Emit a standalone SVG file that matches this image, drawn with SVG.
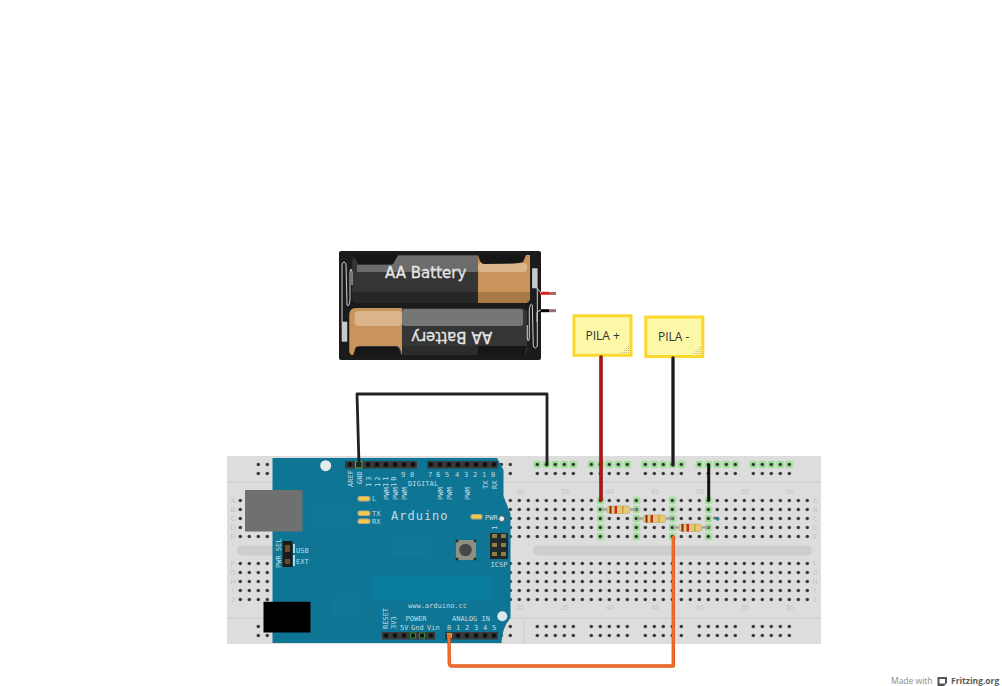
<svg xmlns="http://www.w3.org/2000/svg" width="1002" height="686" viewBox="0 0 1002 686">
<style>
.silk{font-family:"DejaVu Sans Mono","Liberation Mono",monospace;font-size:7px;fill:#c3dbe4}
.bbl{font-family:"Liberation Sans",Arial,sans-serif;font-size:7px;fill:#c4c4c4;text-anchor:middle}
.batt{font-family:"DejaVu Sans",sans-serif;font-size:15px;fill:#e6e6e6;stroke:#e6e6e6;stroke-width:.3;text-anchor:middle}
.note{fill:#fdf8a8;stroke:#fcd72e;stroke-width:3}
.notet{font-family:"Open Sans","Noto Sans",sans-serif;font-size:12px;fill:#333}
.grip{fill:#b9b37a}
.led{fill:#f2c84b;stroke:#b9a980;stroke-width:1.2}
.lead{stroke:#9a9a9a;stroke-width:2;fill:none}
.rbody{fill:#e3c978;stroke:#bda663;stroke-width:.6}
.b1{fill:#7c2a1a}.b2{fill:#c9291c}.b3{fill:#c7a13a}
.w{fill:none;stroke-linecap:round;stroke-linejoin:round}
.spring{fill:none;stroke:#cfcfcf;stroke-width:1}
.term{fill:#c9c9c9}
</style>
<defs>
<pattern id="holes" patternUnits="userSpaceOnUse" x="1.8" y="1" width="9" height="9"><circle cx="4.5" cy="4.5" r="1.7" fill="#333"/></pattern>
<pattern id="pins" patternUnits="userSpaceOnUse" x="3.5" y="1" width="9" height="9"><rect x="2.5" y="2.5" width="4" height="4" fill="#0c0c0c"/></pattern>
<pattern id="gr" patternUnits="userSpaceOnUse" x="1.8" y="1" width="9" height="9"><rect x=".7" y=".7" width="7.6" height="7.6" rx="2" fill="#a0e09a"/></pattern>
</defs>

<g id="breadboard">
<rect x="227" y="456" width="594" height="188" fill="#dddddd"/>
<path d="M227 482H821M227 618H821M524 618V644" stroke="#cbcbcb" fill="none"/>
<rect x="237" y="545.500" width="60" height="10" rx="5" fill="#cdcdcd"/>
<rect x="533" y="545.500" width="279" height="10" rx="5" fill="#cdcdcd"/>
<rect x="532.800" y="460" width="45" height="9" fill="url(#gr)"/>
<rect x="586.800" y="460" width="45" height="9" fill="url(#gr)"/>
<rect x="640.800" y="460" width="45" height="9" fill="url(#gr)"/>
<rect x="694.800" y="460" width="45" height="9" fill="url(#gr)"/>
<rect x="748.800" y="460" width="45" height="9" fill="url(#gr)"/>
<rect x="596.800" y="496" width="9" height="45" fill="url(#gr)"/>
<rect x="632.800" y="496" width="9" height="45" fill="url(#gr)"/>
<rect x="668.800" y="496" width="9" height="45" fill="url(#gr)"/>
<rect x="704.800" y="496" width="9" height="45" fill="url(#gr)"/>
<rect x="235.800" y="496" width="576" height="45" fill="url(#holes)"/>
<rect x="235.800" y="559" width="576" height="45" fill="url(#holes)"/>
<path d="M253.800 460h45v18h-45zM307.800 460h45v18h-45zM361.800 460h45v18h-45zM415.800 460h45v18h-45zM469.800 460h45v18h-45zM532.800 460h45v18h-45zM586.800 460h45v18h-45zM640.800 460h45v18h-45zM694.800 460h45v18h-45zM748.800 460h45v18h-45zM253.800 622h45v18h-45zM307.800 622h45v18h-45zM361.800 622h45v18h-45zM415.800 622h45v18h-45zM469.800 622h45v18h-45zM532.800 622h45v18h-45zM586.800 622h45v18h-45zM640.800 622h45v18h-45zM694.800 622h45v18h-45zM748.800 622h45v18h-45z" fill="url(#holes)"/>
<g class="bbl">
<text x="520" y="494">30</text><text x="565" y="494">35</text><text x="610" y="494">40</text><text x="655" y="494">45</text><text x="700" y="494">50</text><text x="745" y="494">55</text><text x="790" y="494">60</text>
<text x="520" y="610">30</text><text x="565" y="610">35</text><text x="610" y="610">40</text><text x="655" y="610">45</text><text x="700" y="610">50</text><text x="745" y="610">55</text><text x="790" y="610">60</text>
<text x="233" y="503">A</text><text x="233" y="512">B</text><text x="233" y="521">C</text><text x="233" y="530">D</text><text x="233" y="539">E</text>
<text x="233" y="566">F</text><text x="233" y="575">G</text><text x="233" y="584">H</text><text x="233" y="593">I</text><text x="233" y="602">J</text>
<text x="815" y="503">A</text><text x="815" y="512">B</text><text x="815" y="521">C</text><text x="815" y="530">D</text><text x="815" y="539">E</text>
<text x="815" y="566">F</text><text x="815" y="575">G</text><text x="815" y="584">H</text><text x="815" y="593">I</text><text x="815" y="602">J</text>
</g>
</g>

<g id="arduino">
<path d="M272.500 458H497L503.500 470V496L510.500 514V618Q502 628 501.500 643H272.500Z" fill="#0e7594"/>
<rect x="372" y="575" width="120" height="26" fill="#0a7d9e"/>
<rect x="312" y="503" width="40" height="26" fill="#0f7896"/>
<circle cx="345" cy="605" r="15" fill="#0f7896"/>
<rect x="390" y="535" width="40" height="22" fill="#0f7896"/>
<rect x="245" y="490" width="57.500" height="41.500" fill="#707070"/>
<path d="M263.500 601.700H310.500V632.500H263.500Z" fill="#000"/>
<circle cx="325.700" cy="465.700" r="5.500" fill="#e4ebe6"/>
<circle cx="501.700" cy="518.700" r="3" fill="#e6eef0" stroke="#555"/>
<circle cx="502.300" cy="616.300" r="5" fill="#dbe8ec"/>
<rect x="345" y="461" width="72" height="7.500" fill="#3a3a3a"/><rect x="345" y="461" width="72" height="7.500" fill="url(#pins)"/>
<rect x="427" y="461" width="71" height="7.500" fill="#3a3a3a"/><rect x="427" y="461" width="71" height="7.500" fill="url(#pins)"/>
<rect x="382" y="632" width="53" height="7.500" fill="#3a3a3a"/><rect x="382" y="632" width="53" height="7.500" fill="url(#pins)"/>
<rect x="445" y="632" width="53" height="7.500" fill="#3a3a3a"/><rect x="445" y="632" width="53" height="7.500" fill="url(#pins)"/>
<rect x="355.500" y="461.500" width="6.500" height="6.500" fill="none" stroke="#3fa83f"/>
<rect x="410.500" y="633" width="5" height="5" fill="none" stroke="#2e8b37"/><rect x="419.500" y="633" width="5" height="5" fill="none" stroke="#2e8b37"/>
<rect x="447" y="633" width="5" height="5" fill="#c9a23a"/>
<rect x="358" y="496.500" width="12" height="4.500" rx="2.200" class="led"/>
<rect x="358" y="511" width="12" height="4.500" rx="2.200" class="led"/>
<rect x="358" y="519" width="12" height="4.500" rx="2.200" class="led"/>
<rect x="471" y="514.500" width="11" height="4.500" rx="2.200" class="led"/>
<rect x="456" y="540" width="20" height="20" fill="#8f8f84"/>
<g fill="#2a2a2a"><circle cx="457" cy="541" r="1.500"/><circle cx="475" cy="541" r="1.500"/><circle cx="457" cy="559" r="1.500"/><circle cx="475" cy="559" r="1.500"/></g>
<circle cx="465.500" cy="550" r="6.200" fill="#45474a"/>
<rect x="490" y="533" width="18" height="26" fill="#1e2a2e"/>
<g fill="#8f7d45"><rect x="492" y="534" width="5" height="4"/><rect x="501" y="534" width="5" height="4"/><rect x="492" y="543" width="5" height="4"/><rect x="501" y="543" width="5" height="4"/><rect x="492" y="552" width="5" height="4"/><rect x="501" y="552" width="5" height="4"/></g>
<rect x="282.500" y="541" width="10" height="26" fill="#1b1b1b"/>
<rect x="285" y="545" width="5" height="7" fill="#6b4b2a"/><rect x="285" y="559" width="5" height="5" fill="#6b4b2a"/>
<path d="M294 544v9M294 555v11" stroke="#e8f2f5" stroke-width="1.500"/>
<g class="silk">
<text transform="rotate(-90 353 487)" x="353" y="487">AREF</text>
<text transform="rotate(-90 361.500 484)" x="361.500" y="484">GND</text>
<text transform="rotate(-90 370.500 487)" x="370.500" y="487" letter-spacing="2">13</text>
<text transform="rotate(-90 379.500 487)" x="379.500" y="487" letter-spacing="2">12</text>
<text transform="rotate(-90 387.500 487)" x="387.500" y="487" letter-spacing="2">11</text>
<text transform="rotate(-90 395.500 487)" x="395.500" y="487" letter-spacing="2">10</text>
<text x="401" y="477">9</text><text x="410" y="477">8</text>
<text x="428" y="477">7</text><text x="436" y="477">6</text><text x="445" y="477">5</text><text x="455" y="477">4</text><text x="464" y="477">3</text><text x="473" y="477">2</text><text x="482" y="477">1</text><text x="491" y="477">0</text>
<text x="408" y="485.500" letter-spacing=".1">DIGITAL</text>
<text transform="rotate(-90 487.500 489)" x="487.500" y="489">TX</text>
<text transform="rotate(-90 496.500 489)" x="496.500" y="489">RX</text>
<text transform="rotate(-90 388.500 500)" x="388.500" y="500">PWM</text>
<text transform="rotate(-90 397.500 500)" x="397.500" y="500">PWM</text>
<text transform="rotate(-90 406.500 500)" x="406.500" y="500">PWM</text>
<text transform="rotate(-90 442.500 500)" x="442.500" y="500">PWM</text>
<text transform="rotate(-90 451.500 500)" x="451.500" y="500">PWM</text>
<text transform="rotate(-90 469.500 500)" x="469.500" y="500">PWM</text>
<text x="372" y="501">L</text><text x="372" y="516">TX</text><text x="372" y="524">RX</text>
<text x="485" y="519.500">PWR</text>
<text x="391" y="519.500" style="font-size:12px" letter-spacing="1">Arduino</text>
<text transform="rotate(-90 496.500 530)" x="496.500" y="530">1</text>
<text x="490.500" y="567">ICSP</text>
<text x="296" y="552.500">USB</text><text x="296" y="563.500">EXT</text>
<text transform="rotate(-90 281 568)" x="281" y="568">PWR SEL</text>
<text x="408" y="608">www.arduino.cc</text>
<text transform="rotate(-90 387.500 629)" x="387.500" y="629">RESET</text>
<text transform="rotate(-90 396 629)" x="396" y="629">3V3</text>
<text x="400" y="629.500">5V</text><text x="411" y="629.500">Gnd</text><text x="427" y="629.500">Vin</text>
<text x="405.500" y="620.500">POWER</text><text x="452" y="620.500">ANALOG IN</text>
<text x="447" y="629.500">0</text><text x="456" y="629.500">1</text><text x="465" y="629.500">2</text><text x="474" y="629.500">3</text><text x="483" y="629.500">4</text><text x="492" y="629.500">5</text>
</g>
</g>

<g id="battery">
<rect x="339" y="251" width="202" height="109" rx="2" fill="#1b1b1b"/>
<path d="M540 293.300H549" stroke="#e21c1c" stroke-width="3"/><path d="M549 293.500H556" stroke="#a96a6a" stroke-width="3"/>
<path d="M540 310.700H549" stroke="#000" stroke-width="3"/><path d="M549 310.700H556" stroke="#9c6a78" stroke-width="3"/>
<path d="M537 288L541 293M537 322V312L541 310" stroke="#cfcfcf" fill="none"/>
<g id="cell-top">
<rect x="352.300" y="255" width="178" height="48" rx="6" fill="#353535"/>
<path d="M352.300 292H530.300V297Q530.300 303 524 303H358Q352.300 303 352.300 297Z" fill="#272727"/>
<path d="M478 255H530V297Q530 303 524 303H478Z" fill="#c9945c"/>
<path d="M478 292H530V297Q530 303 524 303H478Z" fill="#a97a45"/>
<path d="M398 255.500H478V272H357V265H392Z" fill="#6c6c6c"/>
<rect x="478" y="263" width="49" height="9" rx="3" fill="#dcb48a"/>
<path d="M353 255H398L393 264H358Z" fill="#161616"/>
<path d="M478 255H526L523 262Q521 264 484 264Q480 264 478 255Z" fill="#161616"/>
<text class="batt" x="425.700" y="277.500">AA Battery</text>
</g>
<g id="cell-bottom">
<rect x="349.300" y="308" width="178" height="47" rx="6" fill="#353535"/>
<rect x="402" y="346" width="76" height="9" fill="#2c2c2c"/>
<path d="M402 308H356Q349.300 308 349.300 315V351Q349.300 355 353 355L355 349Q356 346 360 346H396Q400 346 402 355Z" fill="#c9945c"/>
<rect x="354.500" y="311" width="47.500" height="15" rx="4" fill="#dcb48a"/>
<rect x="402" y="309" width="121" height="17" rx="3" fill="#767676"/>
<path d="M478 346H527L524 355H478Z" fill="#161616"/>
<path d="M354 355L356 347H398L401 355Z" fill="#161616"/>
<text class="batt" transform="rotate(180 451.700 337)" x="451.700" y="342">AA Battery</text>
</g>
<g id="springs">
<path class="spring" d="M342 322V264Q344 260 346 264L347 305Q349 308 350 300V272Q351 266 352 272V285"/>
<rect class="term" x="341.700" y="321.700" width="5.500" height="20"/>
<g transform="rotate(180 439.650 305)">
<path class="spring" d="M342 322V264Q344 260 346 264L347 305Q349 308 350 300V272Q351 266 352 272V285"/>
<rect class="term" x="341.700" y="321.700" width="5.500" height="20"/>
</g>
</g>
</g>

<g id="note-plus">
<rect class="note" x="574" y="315.800" width="57" height="39.500"/>
<text class="notet" x="602.700" y="340" text-anchor="middle">PILA +</text>
<path class="grip" d="M628 346h1v1h-1zM626 348h1v1h-1zM628 348h1v1h-1zM624 350h1v1h-1zM626 350h1v1h-1zM628 350h1v1h-1zM622 352h1v1h-1zM624 352h1v1h-1zM626 352h1v1h-1zM628 352h1v1h-1z"/>
</g>
<g id="note-minus">
<rect class="note" x="645.800" y="317" width="57" height="39.500"/>
<text class="notet" x="658" y="341">PILA -</text>
<path class="grip" d="M699.500 347h1v1h-1zM697.500 349h1v1h-1zM699.500 349h1v1h-1zM695.500 351h1v1h-1zM697.500 351h1v1h-1zM699.500 351h1v1h-1zM693.500 353h1v1h-1zM695.500 353h1v1h-1zM697.500 353h1v1h-1zM699.500 353h1v1h-1z"/>
</g>

<g id="resistor-1">
<path class="lead" d="M601 509.500H637"/>
<rect class="rbody" x="607" y="506" width="23" height="7.500" rx="3"/>
<rect class="b1" x="609.500" y="506" width="2" height="7.500"/><rect class="b2" x="614.500" y="506" width="2.500" height="7.500"/><rect class="b3" x="622" y="506" width="1.500" height="7.500"/>
</g>
<g id="resistor-2">
<path class="lead" d="M637 518.500H673"/>
<rect class="rbody" x="643" y="515" width="23" height="7.500" rx="3"/>
<rect class="b1" x="645.500" y="515" width="2" height="7.500"/><rect class="b2" x="650.500" y="515" width="2.500" height="7.500"/><rect class="b3" x="658" y="515" width="1.500" height="7.500"/>
</g>
<g id="resistor-3">
<path class="lead" d="M673 527.500H709"/>
<rect class="rbody" x="679" y="524" width="23" height="7.500" rx="3"/>
<rect class="b1" x="681.500" y="524" width="2" height="7.500"/><rect class="b2" x="686.500" y="524" width="2.500" height="7.500"/><rect class="b3" x="694" y="524" width="1.500" height="7.500"/>
</g>
<g id="probe"><circle cx="715" cy="518" r="1.600" fill="#a5506a"/><circle cx="717.800" cy="519" r="1.800" fill="#1c8f8f"/></g>

<g id="connectors">
<path class="w" d="M359 465L357 394H547V465" stroke="#222" stroke-width="2.800"/>
<path class="w" d="M601 357V500" stroke="#8c1414" stroke-width="3.600"/><path class="w" d="M601 358V500" stroke="#c81414" stroke-width="1.400"/>
<path class="w" d="M673 358V465" stroke="#333" stroke-width="3.400"/><path class="w" d="M673 358V465" stroke="#111" stroke-width="1.400"/>
<path class="w" d="M708.700 465V500" stroke="#111" stroke-width="3"/>
<path class="w" d="M673.300 537V666H452Q449.300 666 449.300 663L449 636" stroke="#e05a1e" stroke-width="3.400"/>
<path class="w" d="M673.300 537V666H452Q449.300 666 449.300 663L449 636" stroke="#f4702d" stroke-width="1.600"/>
</g>

<g id="credit">
<text x="891" y="684" font-family="'Open Sans','Noto Sans',sans-serif" font-size="8.500" fill="#8a8a8a">Made with</text>
<path d="M937.500 677H947V683L944 686H937.500Z" fill="#555"/><rect x="939.500" y="679" width="5.500" height="4.500" fill="#fff"/>
<text x="951" y="684" font-family="'Open Sans','Noto Sans',sans-serif" font-size="8.500" font-weight="700" fill="#5a5a5a">Fritzing.org</text>
</g>
</svg>
